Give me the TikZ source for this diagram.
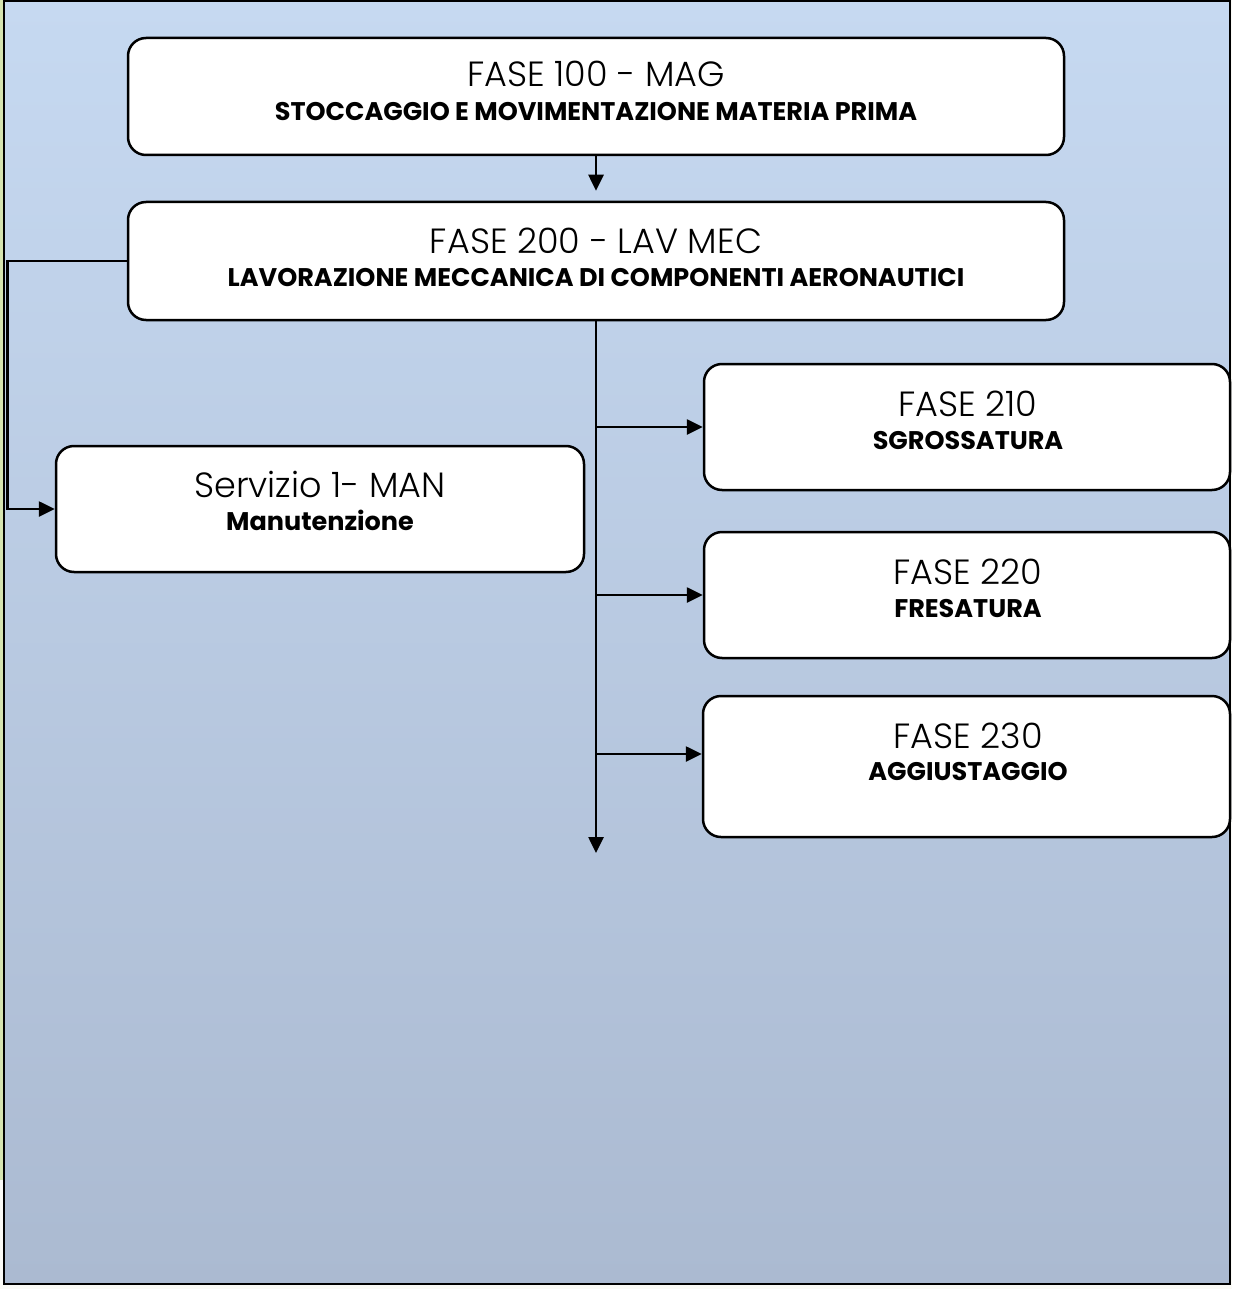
\documentclass[tikz,border=0pt]{standalone}
\usepackage{fontspec}
\setmainfont{Poppins}[UprightFont={* Light},BoldFont={* Bold}]
\usetikzlibrary{arrows.meta}

\definecolor{bgtop}{RGB}{198,217,241}
\definecolor{bgbot}{RGB}{171,186,209}
\definecolor{edgegreen}{RGB}{214,228,176}
\definecolor{paper}{RGB}{250,250,246}

\tikzset{
  box/.style={draw=black, line width=2.5pt, fill=white, rounded corners=18pt,
    inner sep=0pt},
  conn/.style={line width=2.6pt, -{Triangle[length=16pt,width=15pt]}},
  title/.style={font=\fontsize{35}{37}\selectfont, anchor=base, inner sep=0pt},
  subtitle/.style={font=\fontsize{25.5}{27}\selectfont\bfseries, anchor=base, inner sep=0pt},
}

\begin{document}
\begin{tikzpicture}[x=1pt, y=-1pt]
  \useasboundingbox (0,0) rectangle (1232,1289);
  % page and framed backdrop
  \fill[paper] (0,0) rectangle (1232,1289);
  \fill[edgegreen] (0,0) rectangle (3,1180);
  \shade[top color=bgtop, bottom color=bgbot] (4,1) rectangle (1230,1284);
  \draw[line width=2pt] (4,1) rectangle (1230,1284);

  % boxes
  \node[box, minimum width=936pt, minimum height=117pt] (f100) at (596,96.5) {};
  \node[box, minimum width=936pt, minimum height=118pt] (f200) at (596,261) {};
  \node[box, minimum width=528pt, minimum height=126pt] (serv) at (320,509) {};
  \node[box, minimum width=526pt, minimum height=126pt] (f210) at (967,427) {};
  \node[box, minimum width=526pt, minimum height=126pt] (f220) at (967,595) {};
  \node[box, minimum width=527pt, minimum height=141pt] (f230) at (966.5,766.5) {};

  % texts
  \node[title] (t100) at (596,87) {FASE 100 - MAG};
  \node[subtitle] (s100) at (596,121) {STOCCAGGIO E MOVIMENTAZIONE MATERIA PRIMA};
  \node[title] (t200) at (596,253) {FASE 200 - LAV MEC};
  \node[subtitle] (s200) at (596,286) {LAVORAZIONE MECCANICA DI COMPONENTI AERONAUTICI};
  \node[title] (tserv) at (320,497) {Servizio 1- MAN};
  \node[subtitle] (sserv) at (320,530) {Manutenzione};
  \node[title] (t210) at (968,416) {FASE 210};
  \node[subtitle] (s210) at (968,449) {SGROSSATURA};
  \node[title] (t220) at (968,584) {FASE 220};
  \node[subtitle] (s220) at (968,617) {FRESATURA};
  \node[title] (t230) at (968,748) {FASE 230};
  \node[subtitle] (s230) at (968,780) {AGGIUSTAGGIO};

  % connectors
  \coordinate (trunkend) at (596,853);
  \coordinate (j230) at (596,754);
  \draw[conn] (f100.south) -- ([yshift=10pt]f200.north);
  \draw[conn] (f200.south) -- (trunkend);
  \draw[conn] (f200.south |- f210.west) -- (f210.west);
  \draw[conn] (f200.south |- f220.west) -- (f220.west);
  \draw[conn] (j230) -- (j230 -| f230.west);
  \draw[conn] (f200.west) -- ++(-119.5,0) |- (serv.west);
\end{tikzpicture}
\end{document}
